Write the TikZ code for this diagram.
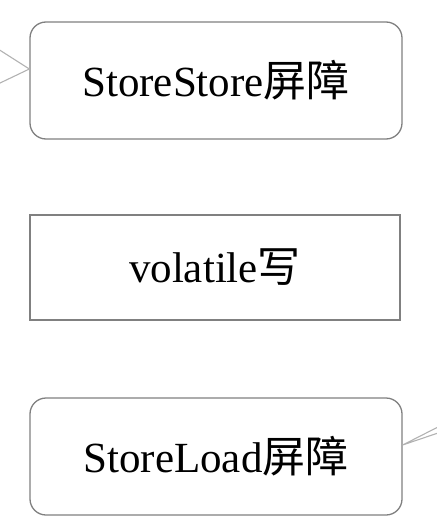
\documentclass[tikz,border=0pt]{standalone}
\usepackage{fontspec}
\setmainfont{Liberation Serif}
\newfontfamily\cjk{Noto Sans CJK SC}
\begin{document}
\begin{tikzpicture}[x=1pt,y=-1pt,
  boxline/.style={draw=black!50,line width=1.3pt},
  roundbox/.style={boxline,rounded corners=16pt,minimum width=372pt,minimum height=117pt,font=\fontsize{43}{47}\selectfont},
  plainbox/.style={boxline,minimum width=370pt,minimum height=105pt,font=\fontsize{43}{47}\selectfont},
  wire/.style={draw=black!30,line width=1.1pt}]
\useasboundingbox (0,0) rectangle (436,532);
\node[roundbox] (ss) at (216,80.5) {StoreStore{\cjk 屏障}};
\node[plainbox] (vw) at (215,267.5) {volatile{\cjk 写}};
\node[roundbox] (sl) at (216,456.5) {StoreLoad{\cjk 屏障}};
\coordinate (tipA) at (ss.west |- 0,69);
\coordinate (a1) at (-2,49);
\coordinate (a2) at (-2,84);
\draw[wire] (a1) -- (tipA) -- (a2);
\coordinate (tipB) at (sl.east |- 0,445);
\coordinate (b1) at (438,427);
\coordinate (b2) at (438,433);
\draw[wire] (b1) -- (tipB) -- (b2);
\end{tikzpicture}
\end{document}
